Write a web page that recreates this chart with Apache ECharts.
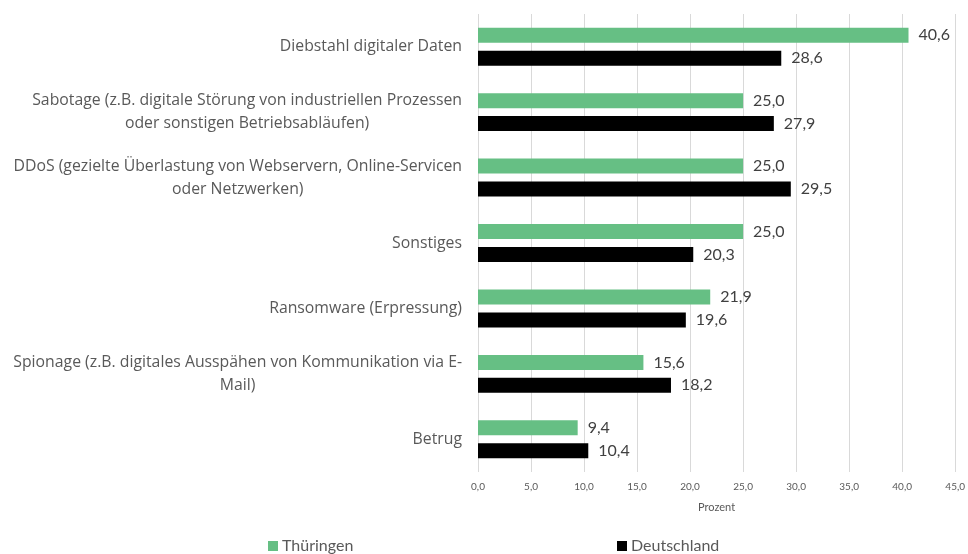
<!DOCTYPE html>
<html>
<head>
<meta charset="utf-8">
<script src="https://cdn.jsdelivr.net/npm/echarts@6/dist/echarts.min.js"></script>
<style>
  html, body { margin: 0; padding: 0; background: #fff; }
  #chart { width: 968px; height: 554px; }
</style>
</head>
<body>
<div id="chart"></div>
<script>
// Kategorien von oben nach unten
const categories = [
  'Diebstahl digitaler Daten',
  'Sabotage (z.B. digitale Störung von industriellen Prozessen\noder sonstigen Betriebsabläufen)',
  'DDoS (gezielte Überlastung von Webservern, Online-Servicen\noder Netzwerken)',
  'Sonstiges',
  'Ransomware (Erpressung)',
  'Spionage (z.B. digitales Ausspähen von Kommunikation via E-\nMail)',
  'Betrug',
]
const thueringen = [40.6, 25.0, 25.0, 25.0, 21.9, 15.6, 9.4]
const deutschland = [28.6, 27.9, 29.5, 20.3, 19.6, 18.2, 10.4]
const seriesNames = ['Thüringen', 'Deutschland']
const axisMax = 45
const axisStep = 5

const font = 'Lato'
const labelFont = 'Open Sans'
const fmt = (v) => Number(v).toFixed(1).replace('.', ',')

const chart = echarts.init(document.getElementById('chart'))

const legendText = { fontFamily: font, fontSize: 16, color: '#595959', padding: [0, 0, 0, -1] }

const option = {
  animation: false,
  textStyle: { fontFamily: font },
  grid: { left: 478, right: 10, top: 14, bottom: 82 },
  legend: [
    {
      data: [seriesNames[0]],
      left: 263,
      top: 533,
      icon: 'rect',
      itemWidth: 10,
      itemHeight: 10,
      itemGap: 5,
      textStyle: legendText,
    },
    {
      data: [seriesNames[1]],
      left: 612,
      top: 533,
      icon: 'rect',
      itemWidth: 10,
      itemHeight: 10,
      textStyle: legendText,
    },
  ],
  xAxis: {
    type: 'value',
    min: 0,
    max: axisMax,
    interval: axisStep,
    name: 'Prozent',
    nameLocation: 'middle',
    nameGap: 30,
    nameTextStyle: { fontFamily: font, fontSize: 11, color: '#595959' },
    axisLine: { show: false },
    axisTick: { show: false },
    axisLabel: { formatter: fmt, fontSize: 10, color: '#595959', margin: 10 },
    splitLine: { show: true, lineStyle: { color: '#d9d9d9', width: 1 } },
  },
  yAxis: {
    type: 'category',
    inverse: true,
    data: categories,
    axisLine: { show: false },
    axisTick: { show: false },
    axisLabel: {
      margin: 16,
      fontSize: 15.8,
      color: '#595959',
      lineHeight: 23,
      formatter: (v) => v.split('\n').map((l) => '{c|' + l + '}').join('\n'),
      rich: { c: { align: 'center', fontSize: 15.8, color: '#595959', lineHeight: 23, fontFamily: labelFont } },
    },
  },
  series: [
    {
      name: seriesNames[0],
      type: 'bar',
      data: thueringen,
      barWidth: 15,
      barGap: '53%',
      itemStyle: { color: '#66bf84' },
      label: { show: true, position: 'right', distance: 10, formatter: (p) => fmt(p.value), fontSize: 16, color: '#404040', fontFamily: font },
    },
    {
      name: seriesNames[1],
      type: 'bar',
      data: deutschland,
      barWidth: 15,
      itemStyle: { color: '#000000' },
      label: { show: true, position: 'right', distance: 10, formatter: (p) => fmt(p.value), fontSize: 16, color: '#404040', fontFamily: font },
    },
  ],
}

chart.setOption(option)
</script>
</body>
</html>
